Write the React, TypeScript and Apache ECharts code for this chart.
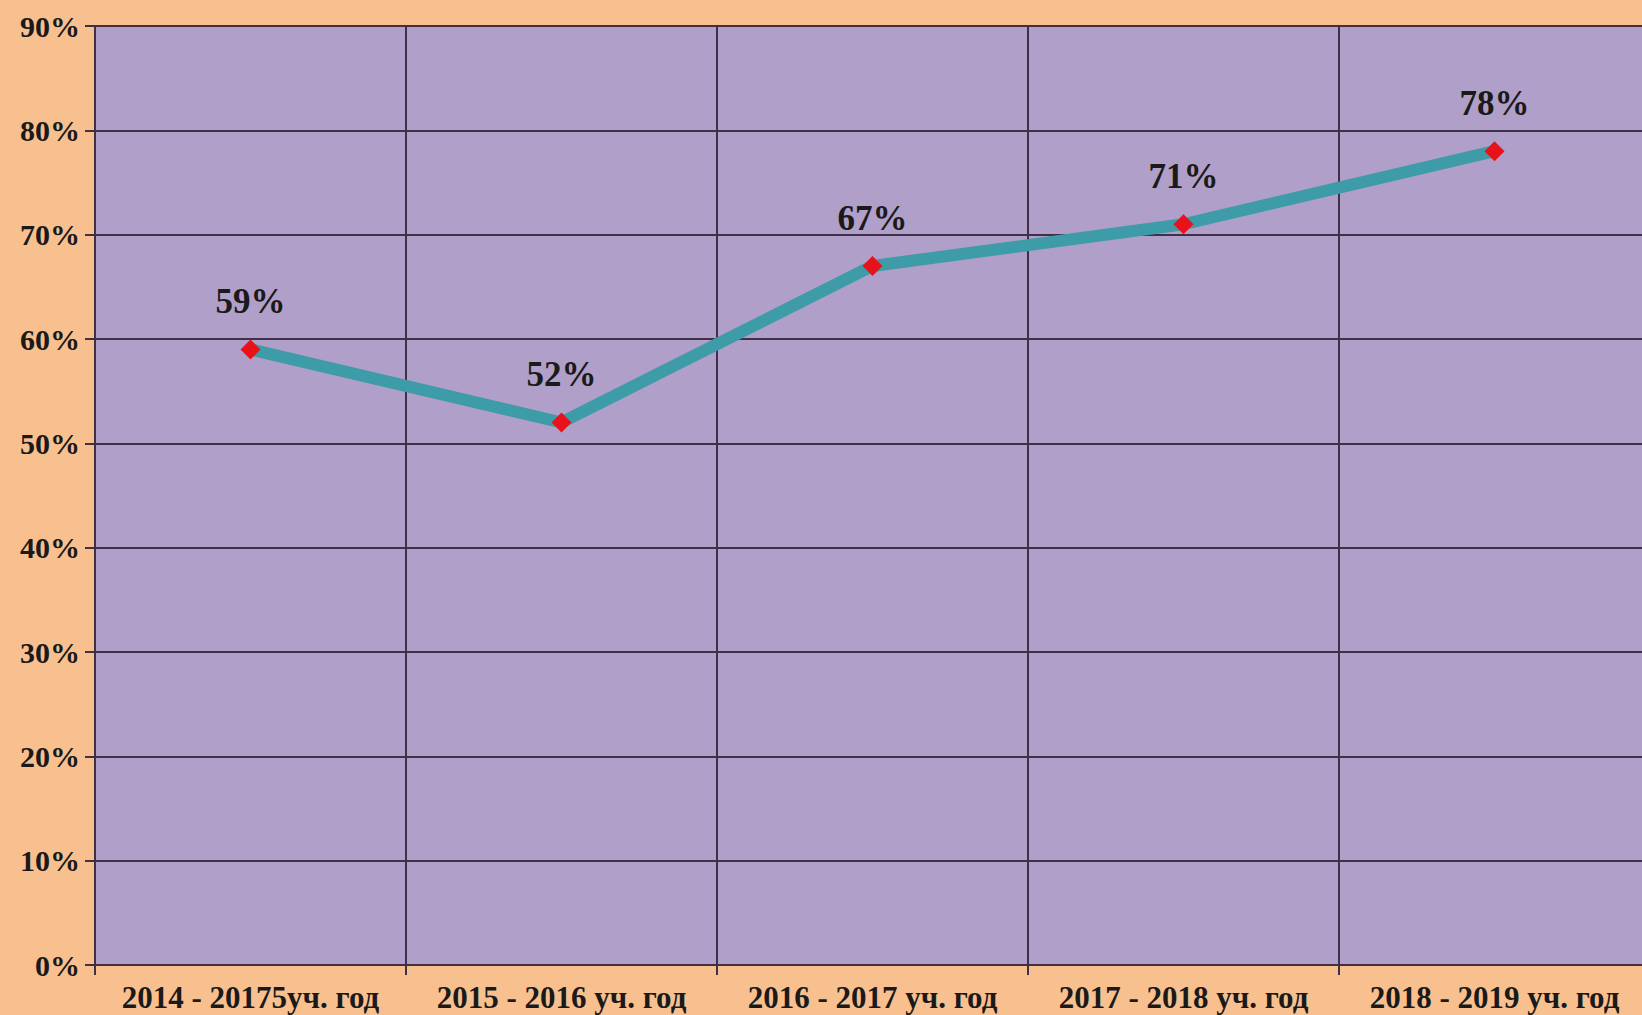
import React, { useEffect, useRef } from "react";
import * as echarts from "echarts";

const categories = [
  "2014 - 20175уч. год",
  "2015 - 2016 уч. год",
  "2016 - 2017 уч. год",
  "2017 - 2018 уч. год",
  "2018 - 2019 уч. год",
];
const values = [59, 52, 67, 71, 78];
const yMin = 0;
const yMax = 90;
const yInterval = 10;

const FONT = "'Liberation Serif', 'Times New Roman', serif";
const GRID_COLOR = "#3f3048";

export default function App() {
  const ref = useRef<HTMLDivElement>(null);
  useEffect(() => {
    if (!ref.current) return;
    const chart = echarts.init(ref.current, null, { renderer: "svg" });
    chart.setOption({
      animation: false,
      backgroundColor: "#F9C08F",
      grid: {
        left: 95,
        top: 26,
        right: 0,
        bottom: 50,
        show: true,
        backgroundColor: "#B09FC8",
        borderWidth: 0,
      },
      xAxis: {
        type: "category",
        data: categories,
        boundaryGap: true,
        axisLine: { show: true, lineStyle: { color: GRID_COLOR, width: 2 } },
        axisTick: { show: true, length: 10, lineStyle: { color: GRID_COLOR, width: 2 } },
        axisLabel: {
          interval: 0,
          margin: 17,
          color: "#1a1a1a",
          fontFamily: FONT,
          fontWeight: "bold",
          fontSize: 31,
        },
        splitLine: { show: true, interval: 0, lineStyle: { color: GRID_COLOR, width: 2 } },
      },
      yAxis: {
        type: "value",
        min: yMin,
        max: yMax,
        interval: yInterval,
        axisLine: { show: true, lineStyle: { color: GRID_COLOR, width: 2 } },
        axisTick: { show: true, length: 10, lineStyle: { color: GRID_COLOR, width: 2 } },
        axisLabel: {
          formatter: "{value}%",
          margin: 15,
          color: "#1a1a1a",
          fontFamily: FONT,
          fontWeight: "bold",
          fontSize: 30,
        },
        splitLine: { show: true, lineStyle: { color: GRID_COLOR, width: 2 } },
      },
      series: [
        {
          type: "line",
          data: values,
          symbol: "diamond",
          symbolSize: 20,
          itemStyle: { color: "#E8121A" },
          lineStyle: { color: "#3E9BA8", width: 12 },
          label: {
            show: true,
            position: "top",
            distance: 20,
            formatter: "{c}%",
            color: "#1a1a1a",
            fontFamily: FONT,
            fontWeight: "bold",
            fontSize: 35,
          },
          z: 3,
        },
      ],
    });
    return () => chart.dispose();
  }, []);
  return (
    <div
      style={{
        position: "fixed",
        left: 0,
        top: 0,
        width: 1642,
        height: 1015,
        overflow: "hidden",
        background: "#F9C08F",
      }}
    >
      <div ref={ref} style={{ width: 1650, height: 1015 }} />
    </div>
  );
}
